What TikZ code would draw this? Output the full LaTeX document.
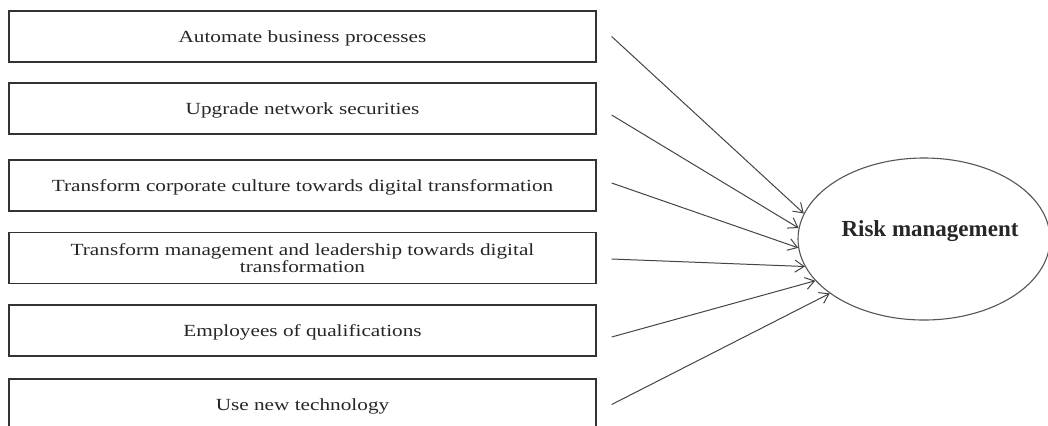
\documentclass[tikz,border=0pt]{standalone}
\usepackage{fontspec}
\usepackage{xcolor}
\usetikzlibrary{arrows.meta,shapes.geometric}
\setmainfont{Liberation Serif}[FakeStretch=1.25]
\newfontfamily\ovalfont{Liberation Serif}
\definecolor{boxline}{HTML}{333333}
\definecolor{linegray}{HTML}{444444}
\definecolor{ovalgray}{HTML}{555555}

\begin{document}
\begin{tikzpicture}[x=0.5pt,y=-0.5pt,
    box/.style={draw=boxline, line width=0.65pt, minimum width=293.5pt, minimum height=25.5pt,
        inner sep=0pt, align=center, text depth=0pt, text=black!85, font=\fontsize{8.5}{8.5}\selectfont},
    link/.style={draw=linegray, line width=0.5pt, -{Straight Barb[length=4.5pt,width=6pt]}}]
        \clip (0,0) rectangle (1048,425);

        % Factors on the left
        \node[box] (auto) at (302.5,36.5) {Automate business processes};
        \node[box] (net) at (302.5,108.5) {Upgrade network securities};
        \node[box] (culture) at (302.5,185.5) {Transform corporate culture towards digital transformation};
        \node[box] (lead) at (302.5,258) {Transform management and leadership towards digital\\transformation};
        \node[box] (staff) at (302.5,330.5) {Employees of qualifications};
        \node[box] (tech) at (302.5,404.5) {Use new technology};

        % Outcome
        \node[draw=ovalgray, line width=0.55pt, ellipse, minimum width=126pt, minimum height=81pt, inner sep=0pt] (risk) at (924,239) {};
        \node[text=black!85, font=\ovalfont\fontsize{11.5}{12}\selectfont\bfseries] (risklabel) at (930,231) {Risk management};

        % Arrows into the oval
        \draw[link] ([xshift=7.5pt]auto.east) -- (risk.168);
        \draw[link] ([xshift=7.5pt,yshift=-3.25pt]net.east) -- (risk.175);
        \draw[link] ([xshift=7.5pt,yshift=1.25pt]culture.east) -- (risk.184.5);
        \draw[link] ([xshift=7.5pt,yshift=-0.5pt]lead.east) -- (risk.193.5);
        \draw[link] ([xshift=7.5pt,yshift=-3.25pt]staff.east) -- (risk.201.5);
        \draw[link] ([xshift=7.5pt]tech.east) -- (risk.210.5);

    \end{tikzpicture}
\end{document}
